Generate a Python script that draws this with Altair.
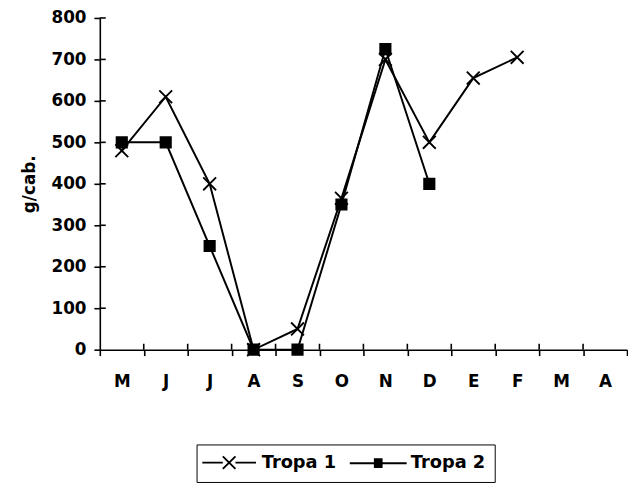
import json
import altair as alt
import pandas as pd

# ---- data ----
months = ["M", "J", "J", "A", "S", "O", "N", "D", "E", "F", "M", "A"]
series_names = ["Tropa 1", "Tropa 2"]
tropa1 = [480, 610, 400, 0, 50, 365, 700, 500, 655, 705, None, None]
tropa2 = [500, 500, 250, 0, 0, 350, 725, 400, None, None, None, None]
y_ticks = [0, 100, 200, 300, 400, 500, 600, 700, 800]

rows = []
for name, vals in zip(series_names, [tropa1, tropa2]):
    for i, v in enumerate(vals):
        if v is not None:
            rows.append({"idx": i, "serie": name, "valor": v})
df = pd.DataFrame(rows)

xtick_df = pd.DataFrame({"idx": list(range(1, len(months)))})
ytick_df = pd.DataFrame({"valor": y_ticks[1:]})

FONT = "DejaVu Sans"
FS = 17
W, H = 534, 336
label_expr = json.dumps(months) + "[datum.value]"

# marker shapes (chart)
x_path = "M-1,-1L1,1M-1,1L1,-1"
sq_path = "M-0.8,-0.8H0.8V0.8H-0.8Z"
# legend symbols: line + marker (square drawn as stacked strokes)
leg1 = "M-3.4,0L-0.8,0M-0.8,-0.8L0.8,0.8M-0.8,0.8L0.8,-0.8M0.8,0L3.4,0"
sq_lines = "".join(
    f"M-0.55,{y / 10:.1f}L0.55,{y / 10:.1f}" for y in range(-5, 6)
)
leg2 = "M-3.6,0L3.6,0" + sq_lines

x_scale = alt.Scale(type="band", domain=list(range(len(months))),
                    paddingInner=0, paddingOuter=0)
y_scale = alt.Scale(domain=[0, 800], nice=False, zero=True)

x_enc = alt.X(
    "idx:O",
    bandPosition=0.5,
    scale=x_scale,
    axis=alt.Axis(title=None, labelExpr=label_expr, labelAngle=0,
                  tickBand="extent", tickSize=6, labelPadding=18,
                  labelFont=FONT, labelFontSize=FS, labelFontWeight="bold"),
)
y_enc = alt.Y(
    "valor:Q",
    scale=y_scale,
    axis=alt.Axis(values=y_ticks, title="g/cab.", grid=False, tickSize=6,
                  labelPadding=8, labelFont=FONT, labelFontSize=FS,
                  labelFontWeight="bold", titleFont=FONT, titleFontSize=FS,
                  titleFontWeight="bold", titlePadding=13),
)

base = alt.Chart(df)

lines = base.mark_line(color="black", strokeWidth=2).encode(
    x=x_enc, y=y_enc, detail="serie:N"
)

points = base.mark_point(filled=True, fill="black", stroke="black",
                         strokeWidth=1.9, size=169, opacity=1).encode(
    x=x_enc, y=y_enc,
    shape=alt.Shape("serie:N",
                    scale=alt.Scale(domain=series_names, range=[x_path, sq_path]),
                    legend=None),
)

# inner halves of the crossing tick marks
xticks_in = alt.Chart(xtick_df).mark_rule(color="black", strokeWidth=1.6).encode(
    x=alt.X("idx:O", bandPosition=0, scale=x_scale),
    y=alt.value(H), y2=alt.value(H - 6),
)
yticks_in = alt.Chart(ytick_df).mark_rule(color="black", strokeWidth=1.6).encode(
    y=alt.Y("valor:Q", scale=y_scale),
    x=alt.value(0), x2=alt.value(6),
)

legend_layer = base.mark_point(filled=False, color="black",
                               strokeWidth=1.9, opacity=1, clip=True).encode(
    x=x_enc,
    y=alt.value(-400),
    shape=alt.Shape("serie:N",
                    scale=alt.Scale(domain=series_names, range=[leg1, leg2]),
                    legend=alt.Legend(title=None, orient="none", legendX=98,
                                      legendY=432, direction="horizontal",
                                      strokeColor="black", padding=9,
                                      symbolSize=256, symbolStrokeWidth=1.9,
                                      symbolStrokeColor="black",
                                      symbolOpacity=1, symbolOffset=15,
                                      labelFont=FONT, labelFontSize=18,
                                      labelFontWeight="bold", labelColor="black",
                                      labelOffset=24, columnPadding=9)),
)

chart = (
    alt.layer(lines, xticks_in, yticks_in, points, legend_layer)
    .resolve_scale(shape="independent")
    .properties(width=W, height=H,
                padding={"left": 12, "top": -2, "right": 0, "bottom": 0})
    .configure_view(stroke=None)
    .configure_axis(domainColor="black", tickColor="black", domainWidth=1.6,
                    tickWidth=1.6, labelColor="black", titleColor="black")
)

chart.save("out.html", embed_options={"renderer": "svg", "actions": False})
